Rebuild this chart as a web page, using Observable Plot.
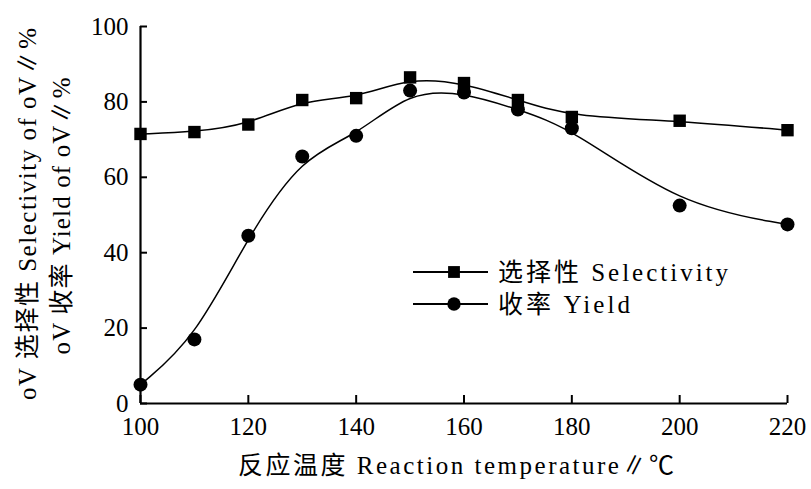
<!DOCTYPE html>
<html><head><meta charset="utf-8">
<script src="https://cdn.jsdelivr.net/npm/d3@7"></script>
<script src="https://cdn.jsdelivr.net/npm/@observablehq/plot@0.6"></script>
<style>body{margin:0;background:#fff}</style>
</head><body><div id="chart"></div>
<script>
const temperature = [100,110,120,130,140,150,160,170,180,200,220];
const selectivity = [71.5,72,74,80.5,81,86.5,85,80.5,76,75,72.5];
const yieldValues = [5,17,44.5,65.5,71,83,82.5,78,73,52.5,47.5];
const seriesNames = ["选择性 Selectivity","收率 Yield"];
const seriesSymbols = ["square","circle"];
const xTicks = [100,120,140,160,180,200,220];
const yTicks = [0,20,40,60,80,100];
const xLabel = "反应温度 Reaction temperature∥℃";
const yLabelLines = ["oV 选择性 Selectivity of oV∥%","oV 收率 Yield of oV∥%"];

const rows = temperature.flatMap((t,i)=>[
  {t, v: selectivity[i], s: seriesNames[0]},
  {t, v: yieldValues[i], s: seriesNames[1]}
]);

const font = "'Liberation Serif','Noto Sans CJK SC',serif";
const W = 811, H = 489;
const mL = 140, mR = 24, mT = 26, mB = 86;

const chart = Plot.plot({
  width: W, height: H,
  marginLeft: mL, marginRight: mR, marginTop: mT, marginBottom: mB,
  style: {fontFamily: font, fontSize: "25px", color: "#000", background: "#fff"},
  x: {domain: [100,220]},
  y: {domain: [0,100]},
  symbol: {domain: seriesNames, range: seriesSymbols},
  marks: [
    Plot.axisX({ticks: xTicks, tickSize: -8, tickPadding: 22, tickFormat: d=>String(d), strokeWidth: 2, label: null, fontSize: 25}),
    Plot.axisY({ticks: yTicks, tickSize: -7, tickPadding: 19, tickFormat: d=>String(d), strokeWidth: 2, label: null, fontSize: 25}),
    Plot.ruleX([100], {stroke: "#000", strokeWidth: 2.2}),
    Plot.ruleY([0], {stroke: "#000", strokeWidth: 2.2}),
    Plot.line(rows, {x: "t", y: "v", z: "s", curve: "basis", stroke: "#000", strokeWidth: 1.5}),
    Plot.dot(rows, {x: "t", y: "v", symbol: "s", fill: "#000", stroke: "none", r: 7})
  ]
});
document.getElementById("chart").appendChild(chart);

const svg = d3.select(chart);
// x axis title
svg.append("text").attr("x", 456).attr("y", 474).attr("text-anchor","middle")
  .attr("font-family", font).attr("font-size", 25).attr("fill","#000")
  .attr("textLength", 436).attr("lengthAdjust","spacing").text(xLabel);
// y axis title (two lines)
const yLab = [{x: 36, c: 214, len: 372}, {x: 70, c: 216, len: 277}];
yLabelLines.forEach((line, i) => {
  const p = yLab[i];
  svg.append("text").attr("transform", `translate(${p.x},${p.c}) rotate(-90)`)
    .attr("text-anchor","middle").attr("font-family", font).attr("font-size", 25)
    .attr("fill","#000").attr("textLength", p.len).attr("lengthAdjust","spacing").text(line);
});
// legend
const legendLen = [230, 132];
const lg = svg.append("g").attr("transform","translate(413,272)");
seriesNames.forEach((name, i) => {
  const g = lg.append("g").attr("transform", `translate(0,${i*32})`);
  g.append("line").attr("x1",0).attr("x2",75).attr("y1",0).attr("y2",0).attr("stroke","#000").attr("stroke-width",1.8);
  g.append("path").attr("transform","translate(41,0)")
    .attr("d", d3.symbol(i===0 ? d3.symbolSquare : d3.symbolCircle, 140)()).attr("fill","#000");
  g.append("text").attr("x", 85).attr("y", 0).attr("dy","0.35em").attr("text-anchor","start")
    .attr("font-family", font).attr("font-size", 25).attr("fill","#000")
    .attr("textLength", legendLen[i]).attr("lengthAdjust","spacing").text(name);
});
</script></body></html>
